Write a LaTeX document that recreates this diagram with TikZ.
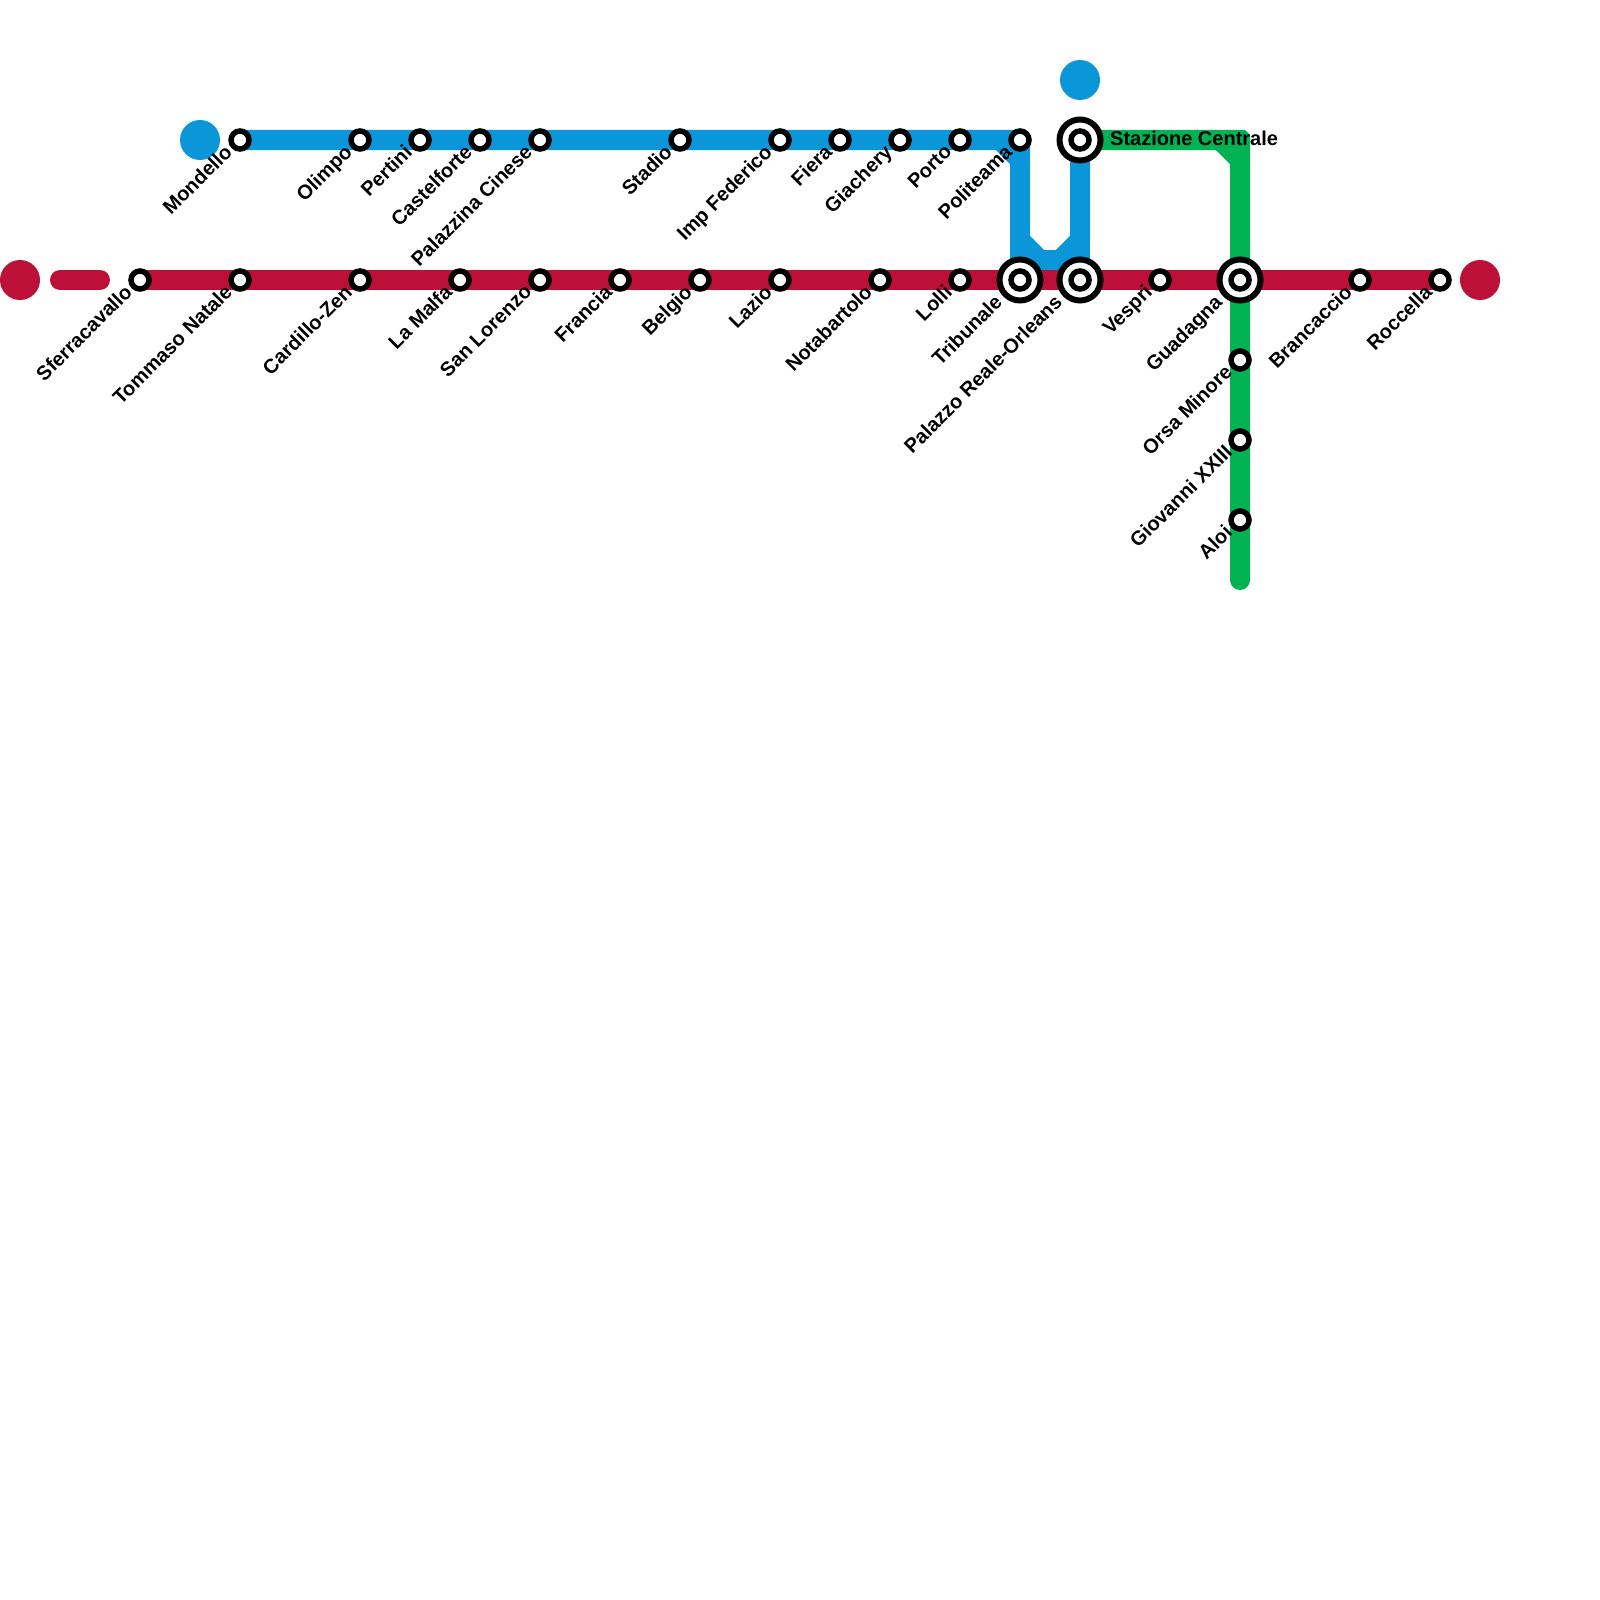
\documentclass[tikz,border=0pt]{standalone}
\usepackage{fontspec}
\setmainfont{Liberation Sans}
\usetikzlibrary{positioning}
\definecolor{linered}{RGB}{189,16,56}
\definecolor{lineblue}{RGB}{10,150,216}
\definecolor{linegreen}{RGB}{0,178,81}
\begin{document}
\begin{tikzpicture}[
    x=1pt,y=-1pt,
    metro/.style={line width=20pt,line cap=round,line join=round},
    term/.style={circle,inner sep=0pt,minimum size=40pt},
    stn/.style={circle,draw=black,fill=white,line width=5.5pt,inner sep=0pt,minimum size=18pt},
    hub/.style={circle,draw=black,fill=white,line width=6pt,inner sep=0pt,minimum size=41pt},
    lab/.style={xshift=-17pt,yshift=-3pt,rotate=45,anchor=north east,inner sep=0pt,font=\fontsize{20pt}{20pt}\selectfont\bfseries},
    hublab/.style={xshift=-10pt,yshift=-10pt,lab}
  ]
    \useasboundingbox (0,0) rectangle (1600,1600);
    \coordinate (stubw) at (60,280);
    \coordinate (stube) at (100,280);
    \coordinate (bendab) at (1000,140);
    \coordinate (bendac) at (1020,160);
    \coordinate (bendad) at (1020,240);
    \coordinate (bendae) at (1040,260);
    \coordinate (bendaf) at (1060,260);
    \coordinate (bendag) at (1080,240);
    \coordinate (bendgb) at (1220,140);
    \coordinate (bendgc) at (1240,160);
    \coordinate (greenend) at (1240,580);

    \coordinate (mondellop) at (240,140);
    \coordinate (centralep) at (1080,140);
    \coordinate (sferrap) at (140,280);
    \coordinate (roccellap) at (1440,280);

    % lines
    \draw[metro,lineblue] (mondellop) -- (bendab) -- (bendac) -- (bendad) -- (bendae) -- (bendaf) -- (bendag) -- (centralep);
    \fill[lineblue] (1000,130) -- (1025,130) -- (1030,135) -- (1030,160) -- (1010,160) -- (1000,150) -- cycle;
    \draw[line width=20pt,lineblue] (bendad) -- (1020,260) -- (1080,260) -- (bendag);
    \draw[metro,linegreen] (centralep) -- (bendgb) -- (bendgc) -- (greenend);
    \fill[linegreen] (1220,130) -- (1245,130) -- (1250,135) -- (1250,160) -- (1230,160) -- (1216,150) -- cycle;
    \draw[metro,linered] (stubw) -- (stube);
    \draw[metro,linered] (sferrap) -- (roccellap);

    % line ends
    \node[term,fill=linered] (redw) at (20,280) {};
    \node[term,fill=linered] (rede) at (1480,280) {};
    \node[term,fill=lineblue] (bluew) at (200,140) {};
    \node[term,fill=lineblue] (bluee) at (1080,80) {};

    % blue line
    \node[stn] (mondello) at (240,140) {}; \node[lab] (mondellolab) at (mondello) {Mondello};
    \node[stn] (olimpo) at (360,140) {}; \node[lab] (olimpolab) at (olimpo) {Olimpo};
    \node[stn] (pertini) at (420,140) {}; \node[lab] (pertinilab) at (pertini) {Pertini};
    \node[stn] (castelforte) at (480,140) {}; \node[lab] (castelfortelab) at (castelforte) {Castelforte};
    \node[stn] (palazzina) at (540,140) {}; \node[lab] (palazzinalab) at (palazzina) {Palazzina Cinese};
    \node[stn] (stadio) at (680,140) {}; \node[lab] (stadiolab) at (stadio) {Stadio};
    \node[stn] (federico) at (780,140) {}; \node[lab] (federicolab) at (federico) {Imp Federico};
    \node[stn] (fiera) at (840,140) {}; \node[lab] (fieralab) at (fiera) {Fiera};
    \node[stn] (giachery) at (900,140) {}; \node[lab] (giacherylab) at (giachery) {Giachery};
    \node[stn] (porto) at (960,140) {}; \node[lab] (portolab) at (porto) {Porto};
    \node[stn] (politeama) at (1020,140) {}; \node[lab] (politeamalab) at (politeama) {Politeama};

    % red line
    \node[stn] (sferra) at (140,280) {}; \node[lab] (sferralab) at (sferra) {Sferracavallo};
    \node[stn] (tommaso) at (240,280) {}; \node[lab] (tommasolab) at (tommaso) {Tommaso Natale};
    \node[stn] (cardillo) at (360,280) {}; \node[lab] (cardillolab) at (cardillo) {Cardillo-Zen};
    \node[stn] (malfa) at (460,280) {}; \node[lab] (malfalab) at (malfa) {La Malfa};
    \node[stn] (lorenzo) at (540,280) {}; \node[lab] (lorenzolab) at (lorenzo) {San Lorenzo};
    \node[stn] (francia) at (620,280) {}; \node[lab] (francialab) at (francia) {Francia};
    \node[stn] (belgio) at (700,280) {}; \node[lab] (belgiolab) at (belgio) {Belgio};
    \node[stn] (lazio) at (780,280) {}; \node[lab] (laziolab) at (lazio) {Lazio};
    \node[stn] (notabartolo) at (880,280) {}; \node[lab] (notabartololab) at (notabartolo) {Notabartolo};
    \node[stn] (lolli) at (960,280) {}; \node[lab] (lollilab) at (lolli) {Lolli};
    \node[stn] (vespri) at (1160,280) {}; \node[lab] (vesprilab) at (vespri) {Vespri};
    \node[stn] (brancaccio) at (1360,280) {}; \node[lab] (brancacciolab) at (brancaccio) {Brancaccio};
    \node[stn] (roccella) at (1440,280) {}; \node[lab] (roccellalab) at (roccella) {Roccella};

    % green line
    \node[stn] (orsa) at (1240,360) {}; \node[lab] (orsalab) at (orsa) {Orsa Minore};
    \node[stn] (giovanni) at (1240,440) {}; \node[lab] (giovannilab) at (giovanni) {Giovanni XXIII};
    \node[stn] (aloi) at (1240,520) {}; \node[lab] (aloilab) at (aloi) {Aloi};

    % interchanges
    \node[hub] (tribunale) at (1020,280) {}; \node[stn] (tribunalein) at (tribunale) {}; \node[hublab] (tribunalelab) at (tribunale) {Tribunale};
    \node[hub] (orleans) at (1080,280) {}; \node[stn] (orleansin) at (orleans) {}; \node[hublab] (orleanslab) at (orleans) {Palazzo Reale-Orleans};
    \node[hub] (guadagna) at (1240,280) {}; \node[stn] (guadagnain) at (guadagna) {}; \node[hublab] (guadagnalab) at (guadagna) {Guadagna};
    \node[hub] (centrale) at (1080,140) {}; \node[stn] (centralein) at (centrale) {};
    \node[anchor=west,inner sep=0pt,font=\fontsize{20pt}{20pt}\selectfont\bfseries] (centralelab) at (1110,138) {Stazione Centrale};
  \end{tikzpicture}
\end{document}
